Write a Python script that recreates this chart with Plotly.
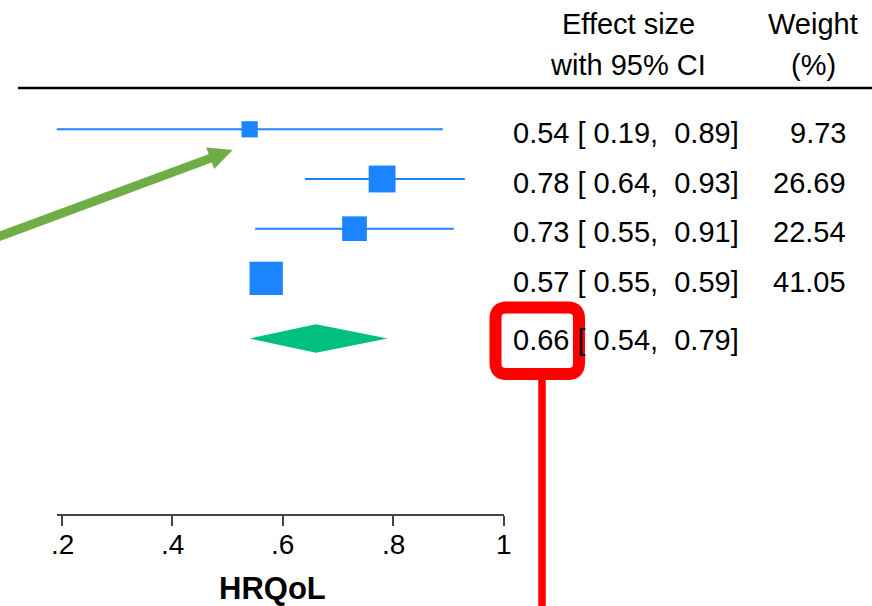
import math
import plotly.graph_objects as go

# ---------------- data ----------------
study_est = [0.54, 0.78, 0.73, 0.57]
study_lo = [0.19, 0.64, 0.55, 0.55]
study_hi = [0.89, 0.93, 0.91, 0.59]
study_weight = [9.73, 26.69, 22.54, 41.05]
study_rows = [1, 2, 3, 4]

overall_est = 0.66
overall_lo = 0.54
overall_hi = 0.79
overall_row = 5.21

tick_vals = [0.2, 0.4, 0.6, 0.8, 1.0]
tick_text = [".2", ".4", ".6", ".8", "1"]

header_es = ["Effect size", "with 95% CI"]
header_wt = ["Weight", "(%)"]
axis_title = "HRQoL"

# ---------------- style ----------------
W, H = 872, 606
FONT = "Liberation Sans, Arial, Helvetica, sans-serif"
BLUE = "#1a85ff"
GREEN_D = "#00bf7f"
ARROW_G = "#70ad47"
RED = "#ff0000"
TXT = 29


def px(x):
    return x / W


def py(y):
    return 1 - y / H


fig = go.Figure()

# CI lines
cx, cy = [], []
for lo, hi, r in zip(study_lo, study_hi, study_rows):
    cx += [lo, hi, None]
    cy += [r, r, None]
fig.add_trace(go.Scatter(x=cx, y=cy, mode="lines",
                         line=dict(color=BLUE, width=2), hoverinfo="skip"))

# squares (area ~ weight)
fig.add_trace(go.Scatter(
    x=study_est, y=study_rows, mode="markers",
    marker=dict(symbol="square", color=BLUE, opacity=1,
                size=[5.2 * math.sqrt(w) for w in study_weight],
                line=dict(width=0)),
    cliponaxis=False, hoverinfo="skip"))

# overall diamond
hh = 0.286
fig.add_trace(go.Scatter(
    x=[overall_lo, overall_est, overall_hi, overall_est, overall_lo],
    y=[overall_row, overall_row - hh, overall_row, overall_row + hh, overall_row],
    mode="lines", fill="toself", fillcolor=GREEN_D,
    line=dict(width=0, color=GREEN_D), hoverinfo="skip"))

annotations = []
NB = "\u00a0"


def fmt(v):
    return f"{v:5.2f}".replace(" ", NB)


for e, lo, hi, w, r in zip(study_est, study_lo, study_hi, study_weight, study_rows):
    annotations.append(dict(
        x=px(511), xref="paper", y=r, yref="y", yshift=-3.5,
        xanchor="left", yanchor="middle", showarrow=False,
        text=f"{e:.2f}{NB}[{fmt(lo)},{NB}{fmt(hi)}]",
        font=dict(family=FONT, size=TXT, color="black")))
    annotations.append(dict(
        x=px(848), xref="paper", y=r, yref="y", yshift=-3.5,
        xanchor="right", yanchor="middle", showarrow=False,
        text=f"{w:.2f}",
        font=dict(family=FONT, size=TXT, color="black")))

annotations.append(dict(
    x=px(511), xref="paper", y=overall_row, yref="y", yshift=-1.5,
    xanchor="left", yanchor="middle", showarrow=False,
    text=f"{overall_est:.2f}{NB}[{fmt(overall_lo)},{NB}{fmt(overall_hi)}]",
    font=dict(family=FONT, size=TXT, color="black")))

# headers
for i, t in enumerate(header_es):
    annotations.append(dict(x=px(628), y=py([24, 65][i]), xref="paper", yref="paper",
                            xanchor="center", yanchor="middle", showarrow=False,
                            text=t, font=dict(family=FONT, size=TXT, color="black")))
for i, t in enumerate(header_wt):
    annotations.append(dict(x=px(813), y=py([24, 65][i]), xref="paper", yref="paper",
                            xanchor="center", yanchor="middle", showarrow=False,
                            text=t, font=dict(family=FONT, size=TXT, color="black")))

# tick labels of the axis
for v, t in zip(tick_vals, tick_text):
    annotations.append(dict(x=v, xref="x", y=py(544), yref="paper",
                            xanchor="center", yanchor="middle", showarrow=False,
                            text=t, font=dict(family=FONT, size=28, color="black")))

# axis title
annotations.append(dict(x=px(272), y=py(588), xref="paper", yref="paper",
                        xanchor="center", yanchor="middle", showarrow=False,
                        text=f"<b>{axis_title}</b>",
                        font=dict(family=FONT, size=31, color="black")))


def path_from_px(cmds):
    s = ""
    for cmd, ps in cmds:
        s += cmd + " " + " ".join(f"{px(a):.5f},{py(b):.5f}" for a, b in ps) + " "
    return s


def rounded_rect(x0, y0, x1, y1, r):
    return path_from_px([
        ("M", [(x0 + r, y0)]), ("L", [(x1 - r, y0)]), ("Q", [(x1, y0), (x1, y0 + r)]),
        ("L", [(x1, y1 - r)]), ("Q", [(x1, y1), (x1 - r, y1)]),
        ("L", [(x0 + r, y1)]), ("Q", [(x0, y1), (x0, y1 - r)]),
        ("L", [(x0, y0 + r)]), ("Q", [(x0, y0), (x0 + r, y0)]),
    ]) + "Z"


# green arrow geometry (pixels)
tail = (-20.0, 243.5)
tip = (232.7, 150.0)
dx, dy = tip[0] - tail[0], tip[1] - tail[1]
L = math.hypot(dx, dy)
ux, uy = dx / L, dy / L
head_len, head_half = 24.0, 11.5
bx, by = tip[0] - head_len * ux, tip[1] - head_len * uy
nx, ny = -uy, ux
arrow_head = path_from_px([
    ("M", [tip]),
    ("L", [(bx + head_half * nx, by + head_half * ny)]),
    ("L", [(bx - head_half * nx, by - head_half * ny)]),
]) + "Z"

shapes = [
    dict(type="line", xref="paper", yref="paper", x0=px(18), x1=px(880),
         y0=py(88), y1=py(88), line=dict(color="black", width=2.5)),
    dict(type="line", xref="paper", yref="paper", x0=px(542), x1=px(542),
         y0=py(378), y1=py(615), line=dict(color=RED, width=7.5)),
    dict(type="path", xref="paper", yref="paper",
         path=rounded_rect(495.5, 307.5, 579, 374, 11),
         line=dict(color=RED, width=12)),
    dict(type="line", xref="paper", yref="paper",
         x0=px(tail[0]), y0=py(tail[1]), x1=px(bx + 2 * ux), y1=py(by + 2 * uy),
         line=dict(color=ARROW_G, width=9)),
    dict(type="path", xref="paper", yref="paper", path=arrow_head,
         fillcolor=ARROW_G, line=dict(width=0, color=ARROW_G)),
]

fig.update_layout(
    width=W, height=H,
    margin=dict(l=0, r=0, t=0, b=0),
    paper_bgcolor="white", plot_bgcolor="white",
    showlegend=False,
    xaxis=dict(domain=[px(56.5), px(503.5)], range=[0.19, 1.0],
               anchor="free", position=py(515),
               showline=True, linecolor="#444444", linewidth=2,
               ticks="outside", ticklen=10, tickwidth=2, tickcolor="#444444",
               tickvals=tick_vals, showticklabels=False,
               showgrid=False, zeroline=False),
    yaxis=dict(domain=[0, 1], range=[10.5915, -1.6016], visible=False,
               showgrid=False, zeroline=False),
    annotations=annotations,
    shapes=shapes,
)

fig.write_html(
    "out.html",
    config={"displayModeBar": False},
    post_script="document.body.style.margin='0';document.body.style.overflow='hidden';",
)
